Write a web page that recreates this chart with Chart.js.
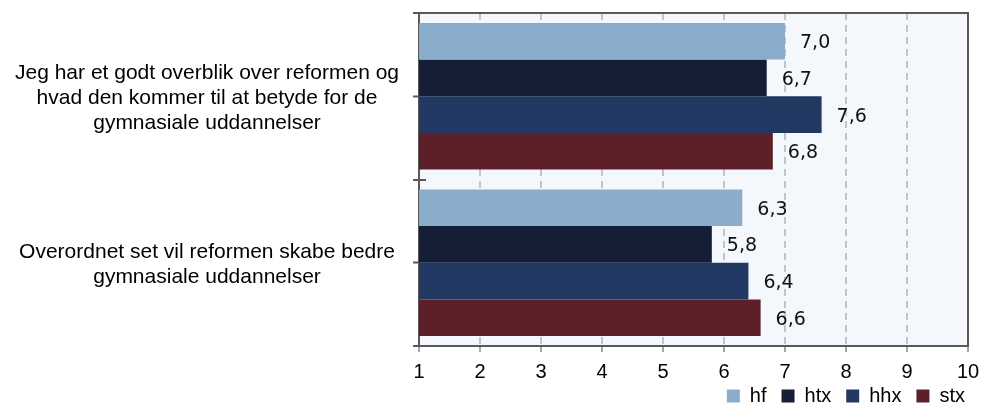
<!DOCTYPE html>
<html>
<head>
<meta charset="utf-8">
<script src="https://cdn.jsdelivr.net/npm/chart.js@4/dist/chart.umd.min.js"></script>
<style>
  html, body { margin: 0; padding: 0; background: #ffffff; }
  #wrap { width: 981px; height: 403px; }
</style>
</head>
<body>
<div id="wrap"><canvas id="c" width="981" height="403"></canvas></div>
<script>
// ---- data ----
const categories = [
  ["Jeg har et godt overblik over reformen og", "hvad den kommer til at betyde for de", "gymnasiale uddannelser"],
  ["Overordnet set vil reformen skabe bedre", "gymnasiale uddannelser"]
];
const seriesNames = ["hf", "htx", "hhx", "stx"];
const hfValues  = [7.0, 6.3];
const htxValues = [6.7, 5.8];
const hhxValues = [7.6, 6.4];
const stxValues = [6.8, 6.6];
const xMin = 1;
const xMax = 10;

// ---- styles ----
const seriesColors = ["#8aadcb", "#151e35", "#213963", "#5e2028"];
const axisColor = "#595959";
const plotBg = "#f4f8fc";
const sansFont = "'Liberation Sans', Arial, sans-serif";
const labelFont = "'DejaVu Sans', Verdana, sans-serif";

const seriesValues = [hfValues, htxValues, hhxValues, stxValues];

const plotDecor = {
  id: 'plotDecor',
  afterLayout(chart) {
    const lg = chart.legend;
    if (!lg) return;
    const xs = chart.scales.x;
    const dy = (xs.bottom - 10) - lg.top;
    lg.top += dy; lg.bottom += dy;
    lg.left += 12; lg.right += 12;
  },
  beforeDraw(chart) {
    const {ctx, chartArea: a} = chart;
    ctx.save();
    ctx.fillStyle = plotBg;
    ctx.fillRect(a.left, a.top, a.right - a.left, a.bottom - a.top);
    ctx.restore();
  },
  afterDraw(chart) {
    const {ctx, chartArea: a} = chart;
    const y = chart.scales.y;
    ctx.save();
    ctx.strokeStyle = axisColor;
    ctx.lineWidth = 2;
    ctx.beginPath();
    ctx.moveTo(a.left - 1, a.top);
    ctx.lineTo(a.right, a.top);
    ctx.lineTo(a.right, a.bottom);
    ctx.stroke();
    // boundary ticks on the category axis
    const n = chart.data.labels.length;
    const bounds = [a.top, a.bottom];
    for (let i = 0; i < n - 1; i++) {
      bounds.push((y.getPixelForValue(i) + y.getPixelForValue(i + 1)) / 2);
    }
    bounds.forEach((b, k) => {
      const by = Math.round(b);
      ctx.beginPath();
      ctx.moveTo(a.left - 6, by);
      ctx.lineTo(k >= 2 ? a.left + 7 : a.left, by);
      ctx.stroke();
    });
    ctx.restore();
  }
};

const valueLabels = {
  id: 'valueLabels',
  afterDatasetsDraw(chart) {
    const {ctx} = chart;
    ctx.save();
    ctx.font = "19px " + labelFont;
    ctx.fillStyle = "#111111";
    ctx.textAlign = "left";
    ctx.textBaseline = "middle";
    chart.data.datasets.forEach((ds, i) => {
      const meta = chart.getDatasetMeta(i);
      meta.data.forEach((el, j) => {
        const v = ds.data[j];
        ctx.fillText(v.toFixed(1).replace('.', ','), el.x + 15, el.y + 2);
      });
    });
    ctx.restore();
  }
};

new Chart(document.getElementById('c'), {
  type: 'bar',
  data: {
    labels: categories,
    datasets: seriesNames.map((name, i) => ({
      label: name,
      data: seriesValues[i],
      backgroundColor: seriesColors[i],
      borderWidth: 0,
      categoryPercentage: 0.88,
      barPercentage: 1.0
    }))
  },
  options: {
    indexAxis: 'y',
    responsive: false,
    animation: false,
    layout: { padding: { top: 13, right: 13, left: 1, bottom: -23 } },
    scales: {
      x: {
        min: xMin,
        max: xMax,
        ticks: { stepSize: 1, color: "#000000", padding: 10, font: { family: sansFont, size: 20, lineHeight: 1 } },
        grid: {
          color: "#c4c4c4",
          lineWidth: 2,
          tickBorderDash: [],
          tickColor: "#a6a6a6",
          tickLength: 6,
          tickWidth: 2
        },
        border: { color: axisColor, width: 2, dash: [7, 5] },
        afterFit(scale) { scale.paddingRight = 0; scale.paddingLeft = 0; scale.height = 35; }
      },
      y: {
        ticks: {
          color: "#000000",
          padding: 14,
          crossAlign: 'center',
          labelOffset: 2,
          font: { family: sansFont, size: 21 }
        },
        grid: {
          offset: false,
          drawOnChartArea: false,
          tickLength: 6,
          tickColor: axisColor,
          tickWidth: 2
        },
        border: { color: axisColor, width: 2 },
        afterFit(scale) { scale.paddingTop = 0; scale.paddingBottom = 0; }
      }
    },
    plugins: {
      legend: {
        position: 'bottom',
        align: 'end',
        labels: {
          boxWidth: 13,
          boxHeight: 13,
          padding: 15,
          color: "#000000",
          font: { family: sansFont, size: 20 }
        }
      },
      tooltip: { enabled: false }
    }
  },
  plugins: [plotDecor, valueLabels]
});
</script>
</body>
</html>
